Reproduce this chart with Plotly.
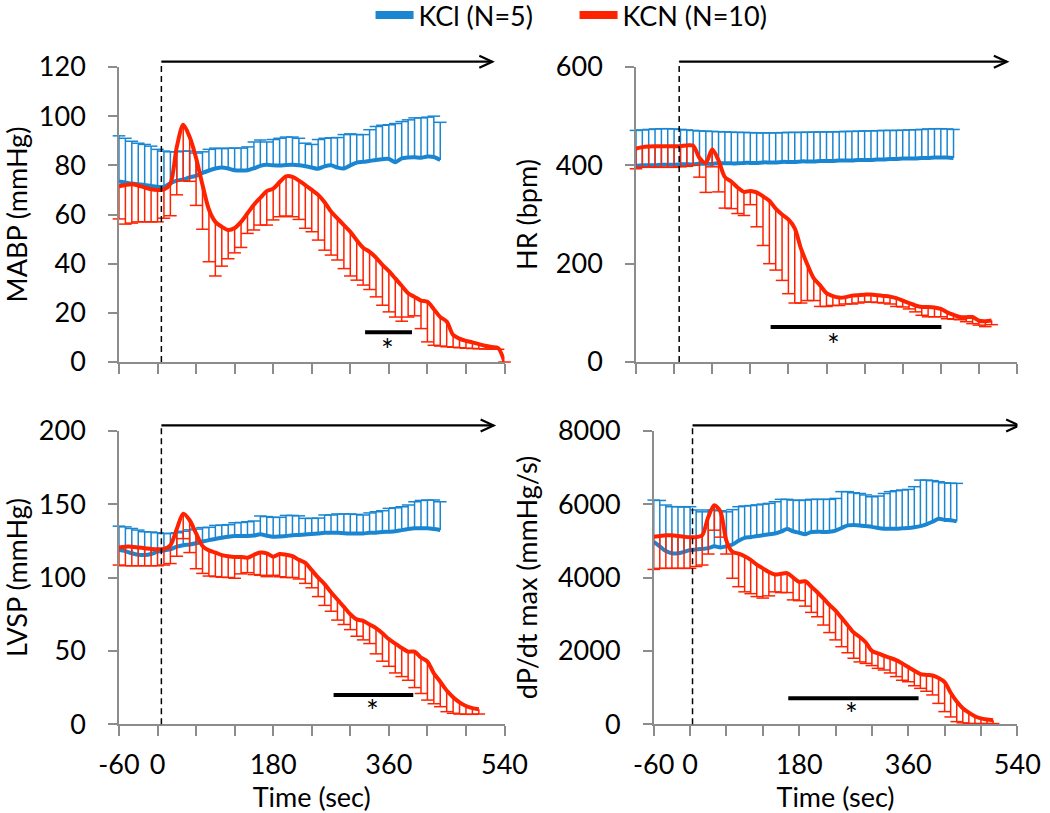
import plotly.graph_objects as go
from plotly.subplots import make_subplots

# ---------------- data ----------------
t_kcl = list(range(-60, 441, 10))          # KCl sampled every 10 s
t_kcn_mabp = list(range(-60, 541, 10))     # KCN MABP
t_kcn = list(range(-60, 501, 10))          # KCN other panels

# MABP (mmHg)
mabp_kcl_mean = [73.4, 73.0, 72.6, 72.3, 72.0, 71.6, 71.3, 71.2, 72.7, 73.8, 74.3, 75.1, 75.7, 76.9,
                 77.9, 78.7, 79.1, 78.7, 78.0, 77.9, 78.0, 78.8, 79.8, 80.2, 80.0, 79.9, 80.1, 80.2,
                 80.0, 79.6, 79.1, 78.6, 79.6, 80.0, 79.1, 78.7, 80.0, 81.1, 81.4, 81.8, 82.2, 82.5,
                 82.6, 81.3, 82.8, 83.2, 83.3, 83.1, 83.6, 83.4, 82.2]
mabp_kcl_upper = [92, 91, 89.8, 89, 88.5, 87.8, 86.5, 85.8, 85.5, 85.5, 85.8, 85.8, 85, 85.5,
                  86.5, 87, 86.8, 87, 87, 87, 87.5, 89.5, 90.3, 89.5, 90.5, 91, 91.5, 91.5,
                  91, 89, 88.5, 90.5, 91, 91.2, 91.3, 92.5, 92.8, 92.5, 92.5, 94.5, 95.8, 96.3,
                  96.5, 97, 97.8, 98.5, 99.3, 99.3, 99.6, 100, 97.5]
mabp_kcn_mean = [71.5, 72.0, 72.3, 71.8, 71.0, 70.3, 70.0, 70.2, 72.5, 87.5, 96.5, 91.5, 83.0, 72.0,
                 62.0, 57.0, 55.0, 53.7, 54.5, 57.0, 60.5, 64.0, 66.8, 69.5, 70.5, 73.2, 75.5, 75.3,
                 73.8, 72.0, 70.0, 68.0, 65.0, 61.2, 58.4, 55.7, 53.0, 49.5, 46.5, 44.8, 42.5, 39.5,
                 37.0, 34.0, 31.0, 28.0, 26.5, 25.0, 24.5, 21.5, 18.3, 16.5, 11.0, 9.5, 8.6, 8.0,
                 7.3, 6.6, 6.1, 5.7, 0.0]
mabp_kcn_lower = [58.2, 56.1, 56.5, 57, 57, 57, 57, 58.5, 59.5, 68, 73.7, 73.5, 63.7, 54,
                  40.8, 35, 39, 42, 44.4, 46.6, 52.3, 53.7, 55.7, 55.7, 57.8, 59.1, 59.4, 59.1,
                  58, 54.4, 53, 49.6, 45.5, 43.5, 41.5, 38, 35, 33.3, 31.3, 29.5, 26.5, 23.1,
                  20.4, 18.3, 16.6, 18.3, 18.8, 13.6, 8.2, 6.8, 6.5, 6.2, 6.0, 5.8, 5.6, 5.5,
                  5.4, 5.3, 5.2, 5.2, 0.0]

# HR (bpm)
hr_kcl_mean = [399, 400, 400, 400, 401, 401, 401, 402, 402, 402, 403, 403, 403, 404, 404, 404, 404,
               405, 405, 405, 406, 406, 406, 407, 407, 407, 408, 408, 408, 409, 409, 409, 410, 410,
               410, 411, 411, 411, 412, 412, 413, 413, 414, 414, 414, 415, 415, 416, 416, 416, 415]
hr_kcl_upper = [471, 472, 473, 474, 474.5, 474.5, 474, 473, 472, 471, 470, 469.5, 469, 468.5, 468,
                467.5, 467, 467, 466.5, 466, 466, 466, 466, 466.5, 467, 467, 467, 467.5, 467.5,
                468, 468, 468, 468.5, 469, 469, 469.5, 470, 470, 470.5, 471, 471, 471, 471.5, 472,
                472.5, 473, 474, 474.5, 474.5, 474, 473]
hr_kcn_mean = [434, 437, 438.5, 439, 439, 439, 439, 439, 440.5, 440, 415, 405, 432, 410, 376,
               367, 355, 346, 348, 345, 337, 328, 312, 300, 290, 272, 230, 198, 170, 156, 140,
               134, 131, 132, 135, 136, 137, 137.5, 136, 134.5, 133, 130, 125, 120, 115, 112,
               112, 111, 108, 101, 96, 91.5, 91, 91.5, 84, 83, 84.5]
hr_kcn_lower = [393, 396, 396, 396, 396, 396, 396, 397, 398, 400, 376, 345, 397, 346, 313, 312,
                302, 298, 320, 275, 237, 200, 187, 166, 139, 120, 120, 125, 125, 113, 113, 115,
                115, 118, 118, 120, 122, 122, 121, 120, 118, 113, 112, 108, 102, 95, 92, 92, 92,
                88, 87, 86, 82, 78, 75, 72, 76]

# LVSP (mmHg)
lvsp_kcl_mean = [118.7, 118, 116.5, 115.5, 115.3, 116, 117.6, 118.5, 119.2, 121, 122, 122.5, 123.3,
                 124.5, 125.5, 126.3, 127.1, 127.8, 128.3, 128.3, 128.3, 128.6, 129.5, 128.5, 127.8,
                 128, 128.3, 128.8, 129, 129.3, 129.6, 130, 130.5, 130.5, 130.5, 130.2, 130, 130,
                 130, 130.5, 130.5, 131, 131.2, 131.5, 132.3, 133, 133.5, 133.5, 133.5, 133, 132.3]
lvsp_kcl_upper = [135, 134.5, 133.4, 132.3, 131.2, 131, 130.5, 130, 130, 130.5, 131.5, 132.5, 133,
                  134, 134.2, 135.5, 135.7, 136, 137.3, 137.5, 138, 138.5, 141.9, 141.5, 141, 141,
                  142.3, 142.3, 142, 140.3, 140.3, 140.5, 142.6, 142.6, 143.3, 143.3, 143.3, 143,
                  142.6, 144, 144.8, 145.5, 147.1, 147.5, 148.2, 149.4, 151.6, 152.5, 152.8, 152.8,
                  151.6]
lvsp_kcn_mean = [120.5, 121, 121, 120.5, 120, 119.5, 119.2, 119.5, 122, 133, 143.5, 139, 130, 121.5,
                 118.5, 117, 115.3, 114.5, 114, 114, 113.5, 115.5, 117, 116.5, 114.2, 116, 115.5,
                 114.5, 112, 110, 105, 100, 95.5, 90, 85, 80, 75, 71.5, 70.5, 68, 65.5, 62, 58, 55,
                 52, 49.5, 49.5, 45.5, 42.7, 34.7, 29, 23, 18.5, 15, 12.5, 11, 10.2]
lvsp_kcn_lower = [108.5, 108, 108, 108, 108, 108, 108, 108.5, 109.5, 114.5, 126.5, 117, 106, 102.8,
                  101, 100.6, 100.2, 100, 99.5, 102.5, 103.3, 102, 101.5, 100.6, 101.5, 100.5, 100,
                  100, 99, 96, 93, 87, 81, 77, 71, 68, 64.5, 60, 57.5, 55, 48, 43, 39.5, 35, 32.5,
                  30, 25, 21, 16.5, 14, 12, 8.6, 7.5, 7, 6.8, 6.8, 7]

# dP/dt max (mmHg/s)
dpdt_kcl_mean = [4975, 4850, 4720, 4660, 4660, 4700, 4750, 4760, 4780, 4800, 4850, 4820, 4850, 4900,
                 5000, 5080, 5100, 5130, 5150, 5180, 5200, 5250, 5320, 5260, 5220, 5180, 5240, 5250,
                 5240, 5250, 5280, 5350, 5420, 5430, 5420, 5400, 5380, 5350, 5330, 5330, 5330, 5340,
                 5350, 5370, 5400, 5450, 5520, 5600, 5570, 5560, 5530]
dpdt_kcl_upper = [6110, 6100, 5975, 5930, 5930, 5920, 5930, 5840, 5790, 5840, 5840, 5820, 5790, 5850,
                  5930, 5950, 5960, 5980, 6000, 6020, 6065, 6130, 6130, 6110, 6100, 6110, 6130, 6130,
                  6130, 6130, 6155, 6340, 6340, 6310, 6290, 6250, 6200, 6220, 6290, 6340, 6365, 6385,
                  6400, 6475, 6655, 6655, 6640, 6610, 6580, 6570, 6565]
dpdt_kcn_mean = [5110, 5130, 5150, 5150, 5130, 5110, 5095, 5100, 5150, 5650, 5970, 5800, 5000, 4700,
                 4650, 4580, 4480, 4350, 4250, 4150, 4080, 4100, 4120, 4000, 3880, 3900, 3750, 3600,
                 3430, 3250, 3100, 2900, 2700, 2500, 2380, 2230, 2000, 1930, 1870, 1810, 1750, 1660,
                 1560, 1460, 1370, 1345, 1330, 1260, 1150, 860, 620, 440, 320, 220, 160, 130, 110]
dpdt_kcn_lower = [4220, 4250, 4250, 4250, 4250, 4250, 4250, 4300, 4340, 4640, 5290, 5100, 4640, 3980,
                  3750, 3610, 3560, 3480, 3440, 3500, 3610, 3590, 3590, 3390, 3370, 3220, 3050, 2930,
                  2705, 2500, 2300, 2115, 1950, 1800, 1700, 1660, 1600, 1525, 1480, 1400, 1300, 1200,
                  1160, 1050, 980, 900, 800, 570, 345, 200, 73, 40, 20, 20, 20, 20, 20]

# per-panel labels and marks: MABP, HR, LVSP, dP/dt
y_titles = ["MABP (mmHg)", "HR (bpm)", "LVSP (mmHg)", "dP/dt max (mmHg/s)"]
y_max = [120, 600, 200, 8000]
y_step = [20, 200, 50, 2000]
x_tickvals = [-60, 0, 60, 120, 180, 240, 300, 360, 420, 480, 540]
x_ticktext = ["-60", "0", "", "", "180", "", "", "360", "", "", "540"]
dash_x = [6, 8, 6, 4]
arrow_end = [521, 524, 523, 543]
sig_x0 = [323, 152, 274, 162]
sig_x1 = [396, 421, 398, 377]
sig_y = [12.1, 71, 20, 708]
star_x = [358, 251, 335, 267]
star_y = [5.4, 37, 9.8, 300]

BLUE = "#1a86d2"
RED = "#ff2200"
AXC = "#8c8c8c"
FONT = "Lato"
FS = 27

panels = [
    (mabp_kcl_mean, mabp_kcl_upper, t_kcn_mabp, mabp_kcn_mean, mabp_kcn_lower),
    (hr_kcl_mean, hr_kcl_upper, t_kcn, hr_kcn_mean, hr_kcn_lower),
    (lvsp_kcl_mean, lvsp_kcl_upper, t_kcn, lvsp_kcn_mean, lvsp_kcn_lower),
    (dpdt_kcl_mean, dpdt_kcl_upper, t_kcn, dpdt_kcn_mean, dpdt_kcn_lower),
]

fig = make_subplots(rows=2, cols=2)

for i, (km, ku, tn, nm, nl) in enumerate(panels):
    assert len(km) == len(t_kcl) == len(ku), (i, len(km), len(ku))
    assert len(nm) == len(tn) == len(nl), (i, len(nm), len(nl), len(tn))
    r, c = i // 2 + 1, i % 2 + 1
    # KCl: upward error bars (stem) + cap markers at upper bound, then mean line
    fig.add_trace(go.Scatter(
        x=t_kcl, y=ku, mode="markers", showlegend=False, cliponaxis=False, hoverinfo="skip",
        marker=dict(symbol="line-ew-open", size=9, color=BLUE, line=dict(color=BLUE, width=1.5))),
        row=r, col=c)
    fig.add_trace(go.Scatter(
        x=t_kcl, y=km, mode="lines", showlegend=False, cliponaxis=False,
        line=dict(color=BLUE, width=4, shape="spline", smoothing=0.8),
        error_y=dict(type="data", symmetric=False,
                     array=[u - m for u, m in zip(ku, km)], arrayminus=[0] * len(km),
                     color=BLUE, thickness=1.5, width=0)), row=r, col=c)
    # KCN: downward error bars + cap markers at lower bound, then mean line
    fig.add_trace(go.Scatter(
        x=tn, y=nl, mode="markers", showlegend=False, cliponaxis=False, hoverinfo="skip",
        marker=dict(symbol="line-ew-open", size=9, color=RED, line=dict(color=RED, width=1.5))),
        row=r, col=c)
    fig.add_trace(go.Scatter(
        x=tn, y=nm, mode="lines", showlegend=False, cliponaxis=False,
        line=dict(color=RED, width=4, shape="spline", smoothing=0.8),
        error_y=dict(type="data", symmetric=False,
                     array=[0] * len(nm), arrayminus=[m - l for m, l in zip(nm, nl)],
                     color=RED, thickness=1.5, width=0)), row=r, col=c)

# legend entries
fig.add_trace(go.Scatter(x=[None], y=[None], mode="lines", name="KCl (N=5)",
                         line=dict(color=BLUE, width=8)), row=1, col=1)
fig.add_trace(go.Scatter(x=[None], y=[None], mode="lines", name="KCN (N=10)",
                         line=dict(color=RED, width=8)), row=1, col=1)

x_domains = [[0.1133, 0.4805], [0.6057, 0.9686], [0.1133, 0.4805], [0.6226, 0.9689]]
y_domains = [[0.5547, 0.9176], [0.5547, 0.9176], [0.1091, 0.4702], [0.1091, 0.4702]]
y_standoff = [20, 10, 21, 12]

shapes = []
annotations = []
for i in range(4):
    sfx = "" if i == 0 else str(i + 1)
    xa, ya = "x" + sfx, "y" + sfx
    bottom = i >= 2
    fig.layout["xaxis" + sfx].update(
        domain=x_domains[i], range=[-60, 540], tickmode="array", tickvals=x_tickvals,
        ticktext=x_ticktext, showticklabels=bottom, showline=True, linecolor=AXC,
        linewidth=1.5, ticks="outside", ticklen=10, tickwidth=1.5, tickcolor=AXC,
        showgrid=False, zeroline=False, tickfont=dict(size=FS, family=FONT, color="black"),
        ticklabelstandoff=6, automargin=False,
        title=dict(text="Time (sec)" if bottom else "", standoff=12,
                   font=dict(size=FS, family=FONT, color="black")))
    fig.layout["yaxis" + sfx].update(
        domain=y_domains[i], range=[0, y_max[i]], tickmode="linear", tick0=0, dtick=y_step[i],
        showline=True, linecolor=AXC, linewidth=1.5, ticks="outside", ticklen=9,
        tickwidth=1.5, tickcolor=AXC, showgrid=False, zeroline=False,
        tickfont=dict(size=FS, family=FONT, color="black"), ticklabelstandoff=17,
        automargin=False,
        title=dict(text=y_titles[i], standoff=y_standoff[i],
                   font=dict(size=FS, family=FONT, color="black")))
    ytop = 1.018
    shapes.append(dict(type="line", xref=xa, yref=ya + " domain", x0=dash_x[i], x1=dash_x[i],
                       y0=0, y1=ytop, line=dict(color="black", width=1.5, dash="6px,4px")))
    shapes.append(dict(type="line", xref=xa, yref=ya + " domain", x0=dash_x[i], x1=arrow_end[i],
                       y0=ytop, y1=ytop, line=dict(color="black", width=2.2)))
    shapes.append(dict(type="path", xref=xa, yref=ya + " domain", xsizemode="pixel",
                       ysizemode="pixel", xanchor=arrow_end[i], yanchor=ytop,
                       path="M-13,6 L0,0 L-13,-6", line=dict(color="black", width=2.2)))
    shapes.append(dict(type="line", xref=xa, yref=ya, x0=sig_x0[i], x1=sig_x1[i],
                       y0=sig_y[i], y1=sig_y[i], line=dict(color="black", width=4)))
    annotations.append(dict(xref=xa, yref=ya, x=star_x[i], y=star_y[i], text="*",
                            showarrow=False, font=dict(size=30, family=FONT, color="black")))

fig.update_layout(
    width=1050, height=813, margin=dict(l=0, r=0, t=0, b=0, autoexpand=False),
    paper_bgcolor="white", plot_bgcolor="white",
    font=dict(family=FONT, size=FS, color="black"),
    shapes=shapes, annotations=annotations,
    legend=dict(orientation="h", x=0.3529, xanchor="left", y=1.011, yanchor="top",
                font=dict(size=27, family=FONT, color="black"), itemwidth=38,
                entrywidth=151, entrywidthmode="pixels", bgcolor="rgba(0,0,0,0)"),
)

fig.write_html("out.html", config={"displayModeBar": False},
               post_script="document.body.style.margin='0';document.body.style.overflow='hidden';")
